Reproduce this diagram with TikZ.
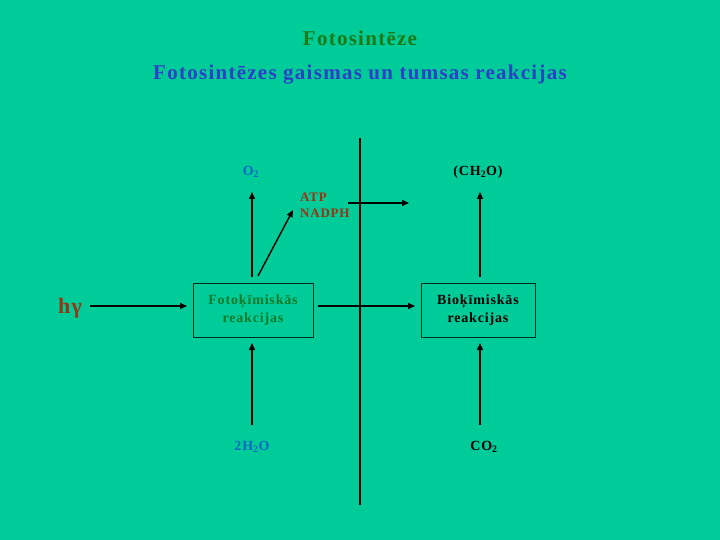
\documentclass[tikz,border=0pt]{standalone}
\usepackage{fontspec}
\setmainfont[LetterSpace=6]{Liberation Serif}
\usetikzlibrary{arrows.meta}
\definecolor{bg}{HTML}{00CC99}
\definecolor{titlegreen}{HTML}{1E7A14}
\definecolor{subblue}{HTML}{2F3FC8}
\definecolor{oblue}{HTML}{0A66C8}
\definecolor{redbrown}{HTML}{993311}
\definecolor{boxgreen}{HTML}{137A2A}
\tikzset{
  arr/.style={draw=black, line width=1.4pt, -{Triangle[length=7pt,width=6pt]}},
  rbox/.style={draw=black!80!bg, line width=0.7pt, minimum width=120pt, minimum height=54pt, align=center, font=\fontsize{14}{18}\selectfont\bfseries},
  lbl/.style={font=\fontsize{14}{16}\selectfont\bfseries, inner sep=0pt}
}
\begin{document}
\begin{tikzpicture}[x=1pt,y=-1pt]
\fill[bg] (0,0) rectangle (720,540);
\useasboundingbox (0,0) rectangle (720,540);
\node[font=\fontsize{21}{24}\selectfont\bfseries, text=titlegreen] (t1) at (360,38) {Fotosintēze};
\node[font=\fontsize{21}{24}\selectfont\bfseries, text=subblue] (t2) at (360,75) {Fotosintēzes gaismas un tumsas reakcijas};
% vertical membrane line
\coordinate (vtop) at (360,138);
\coordinate (vbot) at (360,505);
\draw[line width=2.8pt] (vtop) -- (vbot);
% boxes
\node[rbox, text=boxgreen, minimum width=120pt] (foto) at (253,310) {Fotoķīmiskās\\reakcijas};
\node[rbox, text=black, minimum width=114pt] (bio) at (478,310) {Bioķīmiskās\\reakcijas};
% labels
\node[font=\fontsize{22}{24}\selectfont\bfseries, text=redbrown] (hg) at (70,308) {hγ};
\node[lbl, text=oblue] (o2) at (251,172) {O\textsubscript{2}};
\node[lbl, text=black] (ch2o) at (478,172) {(CH\textsubscript{2}O)};
\node[lbl, text=redbrown, align=left, anchor=west, font=\fontsize{13}{16}\selectfont\bfseries] (atp) at (300,205) {ATP\\NADPH};
\node[lbl, text=oblue] (h2o) at (252,447) {2H\textsubscript{2}O};
\node[lbl, text=black] (co2) at (484,447) {CO\textsubscript{2}};
% connector end points
\coordinate (hgs) at (90,306);
\coordinate (hge) at (187,306);
\coordinate (fbs) at (318,306);
\coordinate (fbe) at (415,306);
\coordinate (o2s) at (252,277);
\coordinate (o2e) at (252,192);
\coordinate (atps) at (258,276);
\coordinate (atpe) at (293,210);
\coordinate (a1) at (348,203);
\coordinate (a2) at (409,203);
\coordinate (chs) at (480,277);
\coordinate (che) at (480,192);
\coordinate (h2s) at (252,425);
\coordinate (h2e) at (252,343);
\coordinate (cos) at (480,425);
\coordinate (coe) at (480,343);
% arrows
\draw[arr] (hgs) -- (hge);
\draw[arr] (fbs) -- (fbe);
\draw[arr] (o2s) -- (o2e);
\draw[arr] (atps) -- (atpe);
\draw[arr] (a1) -- (a2);
\draw[arr] (chs) -- (che);
\draw[arr] (h2s) -- (h2e);
\draw[arr] (cos) -- (coe);
\end{tikzpicture}
\end{document}
